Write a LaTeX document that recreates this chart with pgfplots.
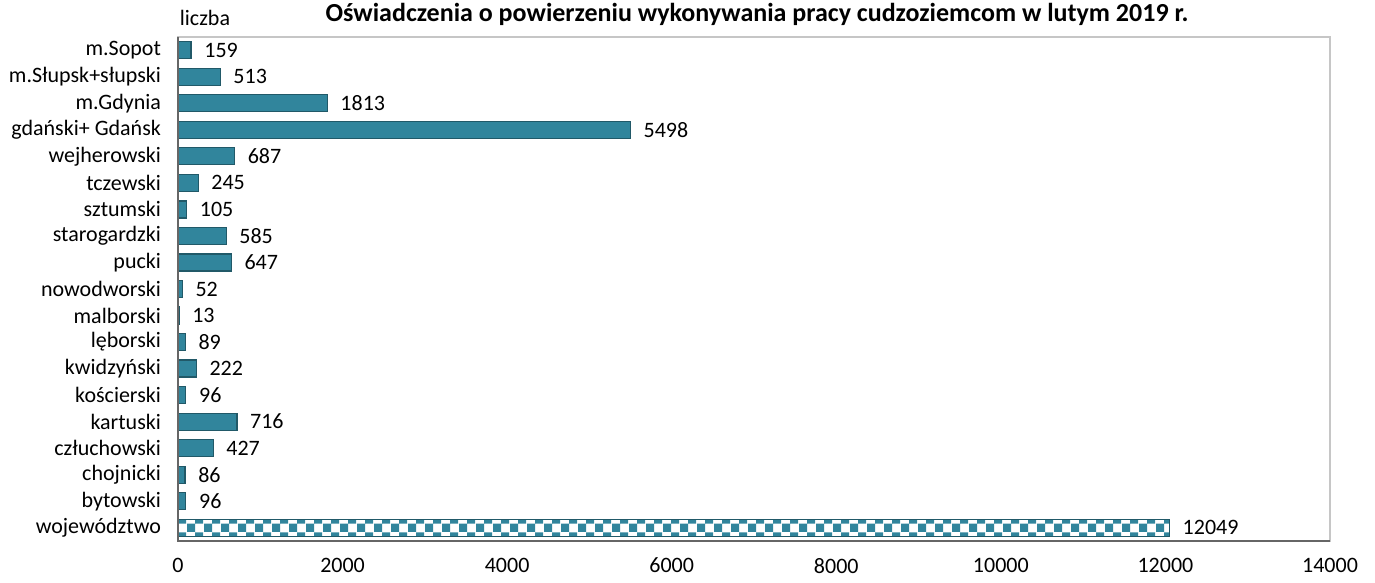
\documentclass[border=0pt]{standalone}
\usepackage{pgfplots}
\pgfplotsset{compat=1.18}
\usepackage{fontspec}
\setmainfont{Carlito}
\usetikzlibrary{patterns}
\definecolor{barfill}{HTML}{31859C}
\definecolor{baredge}{HTML}{215968}
\pgfdeclarepatternformonly{mychecker}{\pgfpointorigin}{\pgfqpoint{8.5pt}{8.5pt}}{\pgfqpoint{8.5pt}{8.5pt}}{%
  \pgfpathrectangle{\pgfpointorigin}{\pgfqpoint{4.25pt}{4.25pt}}%
  \pgfpathrectangle{\pgfqpoint{4.25pt}{4.25pt}}{\pgfqpoint{4.25pt}{4.25pt}}%
  \pgfusepath{fill}}
\begin{document}
\begin{tikzpicture}
\begin{axis}[
  name=ax,
  scale only axis,
  width=576pt, height=252pt,
  xmin=0, xmax=14000,
  ymin=-0.5, ymax=18.5,
  xbar, bar width=8.5pt, bar shift=0pt,
  xtick={0,2000,...,14000},
  scaled x ticks=false,
  ytick={0,...,18},
  yticklabels={województwo,bytowski,chojnicki,człuchowski,kartuski,kościerski,kwidzyński,lęborski,malborski,nowodworski,pucki,starogardzki,sztumski,tczewski,wejherowski,{gdański+ Gdańsk},m.Gdynia,m.Słupsk+słupski,m.Sopot},
  major tick length=0pt,
  /pgf/number format/1000 sep={},
  /pgf/number format/assume math mode=true,
  ticklabel style={font=\fontsize{11}{13}\selectfont},
  xticklabel style={yshift=-5pt},
  yticklabel style={xshift=-5pt},
  axis line style={draw=gray!45, line width=0.8pt},
  nodes near coords,
  nodes near coords style={font=\fontsize{11}{13}\selectfont, black, anchor=west, xshift=3pt, /pgf/number format/assume math mode=true, /pgf/number format/1000 sep={}},
  clip=false,
]
\addplot[fill=barfill, draw=baredge, line width=0.6pt] coordinates {
  (96,1) (86,2) (427,3) (716,4) (96,5) (222,6) (89,7) (13,8) (52,9)
  (647,10) (585,11) (105,12) (245,13) (687,14) (5498,15) (1813,16) (513,17) (159,18)
};
\addplot[pattern=mychecker, pattern color=barfill, draw=baredge, line width=0.6pt] coordinates {
  (12049,0)
};
\draw[gray!80!black, line width=1pt] (rel axis cs:0,1) -- (rel axis cs:0,0) -- (rel axis cs:1,0);
\end{axis}
\node[font=\fontsize{13}{15}\selectfont\bfseries] at ([xshift=289.5pt,yshift=11.5pt]ax.north west) {Oświadczenia o powierzeniu wykonywania pracy cudzoziemcom w lutym 2019 r.};
\node[font=\fontsize{11}{13}\selectfont] at ([xshift=13.5pt,yshift=9.5pt]ax.north west) {liczba};
\pgfresetboundingbox
\path ([xshift=-89pt,yshift=-21pt]ax.south west) rectangle ([xshift=22.5pt,yshift=18.5pt]ax.north east);
\end{tikzpicture}
\end{document}
